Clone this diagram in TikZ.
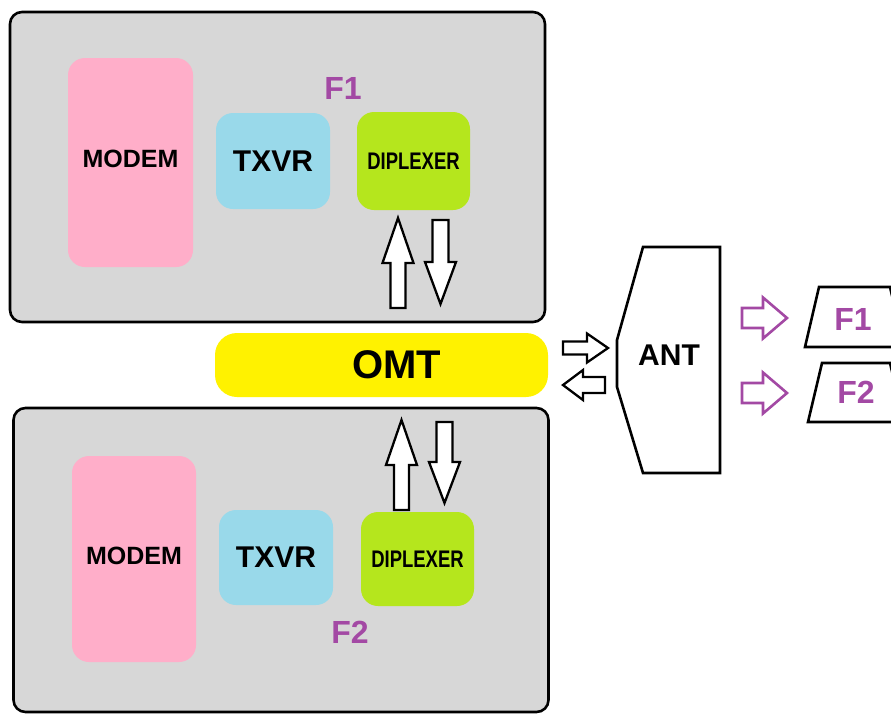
\documentclass[tikz,border=0pt]{standalone}
\usepackage{fontspec}
\setmainfont{Liberation Sans}
\newfontfamily\condfont[FakeStretch=0.77]{Liberation Sans}
\usetikzlibrary{positioning}

\definecolor{panelgray}{HTML}{D7D7D7}
\definecolor{modempink}{HTML}{FFAEC9}
\definecolor{txvrblue}{HTML}{99D9EA}
\definecolor{dipgreen}{HTML}{B5E61D}
\definecolor{omtyellow}{HTML}{FFF200}
\definecolor{fpurple}{HTML}{A349A4}

% hollow block arrow: length, head length, half head width, half shaft width
\tikzset{
  pics/blockarr/.style n args={4}{code={
    \path[pic actions] (0,-#4) -- ({#1-#2},-#4) -- ({#1-#2},-#3) -- (#1,0)
      -- ({#1-#2},#3) -- ({#1-#2},#4) -- (0,#4) -- cycle;
  }}
}

\begin{document}
\begin{tikzpicture}[x=1pt, y=-1pt,
  panel/.style={draw, line width=2.6pt, rounded corners=12pt, fill=panelgray, minimum width=535pt},
  block/.style={rounded corners=17pt, font=\bfseries},
  freq/.style={text=fpurple, font=\fontsize{32}{36}\selectfont\bfseries},
  blkarr/.style={draw=black, fill=white, line width=2.3pt},
  purarr/.style={draw=fpurple, fill=white, line width=2.6pt}]
\useasboundingbox (0,0) rectangle (891,713);

% transceiver chain F1
\node[panel, minimum height=310pt] (top) at (277.5,167) {};
\node[block, fill=modempink, minimum width=125pt, minimum height=209pt,
  label={[yshift=4pt, font=\fontsize{25}{30}\selectfont\bfseries]center:MODEM}] (modemA) at (130.5,162.5) {};
\node[block, fill=txvrblue, minimum width=114pt, minimum height=96pt,
  font=\fontsize{30}{34}\selectfont\bfseries] (txvrA) at (273,161) {TXVR};
\node[block, fill=dipgreen, minimum width=113pt, minimum height=98pt,
  font=\condfont\fontsize{24}{28}\selectfont\bfseries] (dipA) at (413.5,161) {DIPLEXER};
\node[freq] (fA) at (343,88) {F1};
\pic[blkarr, rotate=90] (upA) at (398,308) {blockarr={90}{45}{15.5}{7.5}};
\pic[blkarr, rotate=-90] (dnA) at (440.5,220) {blockarr={84}{42}{15.5}{8}};

% OMT
\node[fill=omtyellow, rounded corners=22pt, minimum width=333pt, minimum height=64pt,
  label={[xshift=15pt, font=\fontsize{40}{44}\selectfont\bfseries]center:OMT}] (omt) at (381.5,365) {};

% transceiver chain F2
\node[panel, minimum height=304pt] (bot) at (281,560) {};
\node[block, fill=modempink, minimum width=124pt, minimum height=206pt,
  label={[yshift=3pt, font=\fontsize{25}{30}\selectfont\bfseries]center:MODEM}] (modemB) at (134,559) {};
\node[block, fill=txvrblue, minimum width=114pt, minimum height=95pt,
  font=\fontsize{30}{34}\selectfont\bfseries] (txvrB) at (276,557.5) {TXVR};
\node[block, fill=dipgreen, minimum width=113pt, minimum height=94pt,
  font=\condfont\fontsize{24}{28}\selectfont\bfseries] (dipB) at (417.5,559) {DIPLEXER};
\node[freq] (fB) at (350,632) {F2};
\pic[blkarr, rotate=90] (upB) at (401.5,510) {blockarr={90}{45}{15.5}{7.5}};
\pic[blkarr, rotate=-90] (dnB) at (444.5,422) {blockarr={81}{41}{15.5}{8}};

% antenna
\draw[line width=2.6pt, line join=miter] (643,247) -- (720,247) -- (720,473) -- (643,473)
  -- (617,387) -- (617,340) -- cycle;
\node[font=\fontsize{30}{34}\selectfont\bfseries] (ant) at (669,355) {ANT};
\pic[blkarr] (toant) at (563,348) {blockarr={45}{21}{14.5}{6.5}};
\pic[blkarr, rotate=180] (fromant) at (605,385) {blockarr={42}{20}{15}{8}};

% outgoing beams
\pic[purarr] (beamA) at (742,318) {blockarr={45}{24}{20.5}{10}};
\pic[purarr] (beamB) at (742,393) {blockarr={45}{24}{20.5}{10}};
\draw[line width=2.6pt] (805,347) -- (819,287) -- (890,287) -- (904,347) -- cycle;
\draw[line width=2.6pt] (808,422) -- (822,363) -- (890,363) -- (904,422) -- cycle;
\node[freq] (outA) at (853,319) {F1};
\node[freq] (outB) at (856,392) {F2};
\end{tikzpicture}
\end{document}
